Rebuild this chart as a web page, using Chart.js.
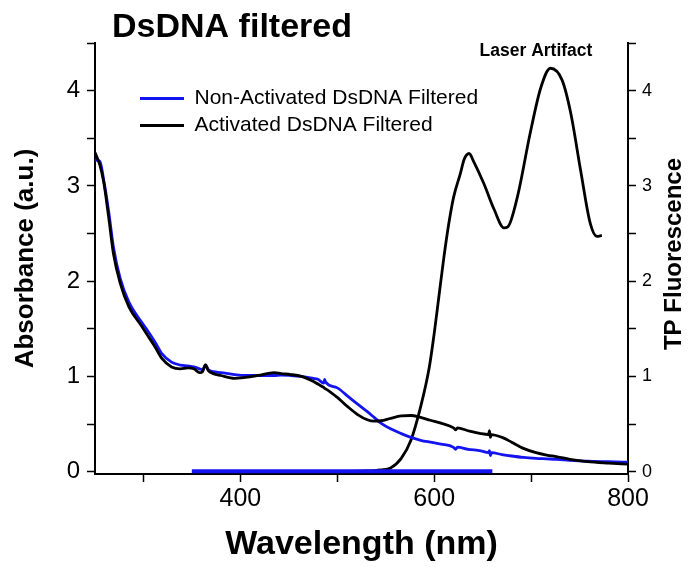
<!DOCTYPE html>
<html>
<head>
<meta charset="utf-8">
<title>DsDNA filtered</title>
<script src="https://cdn.jsdelivr.net/npm/chart.js@4.4.1/dist/chart.umd.min.js"></script>
<style>
  html, body { margin: 0; padding: 0; background: #fff; }
  #wrap { width: 691px; height: 567px; }
</style>
</head>
<body>
<div id="wrap"><canvas id="spectraChart" width="691" height="567"></canvas></div>
<script>
// ==============================================================================
// 1. DATA
// ==============================================================================
const wavelengths = [
    250, 255, 259, 264, 269, 276, 285, 298, 305, 312,
    319, 329, 338, 346, 352, 358, 361, 364, 367, 372,
    380, 394, 405, 418, 435, 442, 452, 463, 475, 480,
    486, 487, 488, 500, 511, 521, 531, 538, 545, 555,
    566, 576, 586, 596, 607, 620, 622, 624, 635, 648,
    656, 657, 658, 659, 670, 680, 692, 705, 716, 727,
    740, 758, 780, 800
];
const absNonActivated = [
    3.27, 3.26, 3.06, 2.74, 2.36, 2.03, 1.78, 1.57, 1.47, 1.36,
    1.24, 1.15, 1.12, 1.11, 1.10, 1.08, 1.07, 1.12, 1.07, 1.05,
    1.04, 1.02, 1.01, 1.01, 1.01, 1.015, 1.01, 1.00, 0.98, 0.97,
    0.93, 0.97, 0.94, 0.88, 0.79, 0.71, 0.63, 0.57, 0.51, 0.45,
    0.40, 0.36, 0.33, 0.31, 0.29, 0.256, 0.235, 0.258, 0.235, 0.22,
    0.20, 0.22, 0.17, 0.20, 0.18, 0.165, 0.15, 0.14, 0.135, 0.13,
    0.12, 0.11, 0.105, 0.10
];
const absActivated = [
    3.35, 3.22, 3.04, 2.68, 2.29, 1.98, 1.73, 1.53, 1.42, 1.31,
    1.19, 1.10, 1.08, 1.09, 1.08, 1.04, 1.05, 1.12, 1.06, 1.03,
    1.01, 0.98, 0.99, 1.01, 1.04, 1.03, 1.02, 1.00, 0.95, 0.92,
    0.885, 0.875, 0.87, 0.78, 0.68, 0.60, 0.545, 0.53, 0.535, 0.56,
    0.585, 0.59, 0.57, 0.54, 0.51, 0.46, 0.44, 0.46, 0.43, 0.40,
    0.39, 0.43, 0.36, 0.39, 0.36, 0.31, 0.245, 0.20, 0.175, 0.157,
    0.13, 0.105, 0.09, 0.08
];

// two-photon fluorescence (right axis)
const fluorWavelengths = [
    350, 500, 530, 545, 555, 566, 576, 586, 595, 600,
    605, 610, 615, 620, 627, 631, 636, 641, 651, 662,
    672, 676, 686, 699, 710, 720, 732, 741, 751, 761,
    768, 773
];
const fluorActivated = [
    0.0, 0.003, 0.008, 0.02, 0.04, 0.14, 0.33, 0.68, 1.10, 1.45,
    1.85, 2.25, 2.60, 2.88, 3.13, 3.28, 3.34, 3.25, 3.03, 2.75,
    2.56, 2.57, 2.89, 3.55, 4.03, 4.235, 4.11, 3.76, 3.17, 2.61,
    2.47, 2.48
];
const baselineWavelengths = [350, 660];
const fluorNonActivated = [0.005, 0.005];

// tick labels
const xTickValues = [300, 400, 500, 600, 700, 800];
const xTickLabels = ['', '400', '', '600', '', '800'];
const yTickValues = [0, 0.5, 1, 1.5, 2, 2.5, 3, 3.5, 4, 4.5];
const yTickLabels = ['0', '', '1', '', '2', '', '3', '', '4', ''];

const BLUE = '#1414f0';
const FONT = "'Liberation Sans', Arial, sans-serif";

// ==============================================================================
// 2. HELPERS
// ==============================================================================
function toPoints(xs, ys) {
    return xs.map((x, i) => ({ x: x, y: ys[i] }));
}

function fixedTicks(values) {
    return (scale) => { scale.ticks = values.map(v => ({ value: v })); };
}

function labelFor(values, labels) {
    return (v) => {
        const i = values.indexOf(v);
        return i < 0 ? '' : labels[i];
    };
}

// Title, laser note and right-hand axis title (reads bottom to top)
const textLayer = {
    id: 'textLayer',
    afterLayout(chart) {
        // vertical legends get top = 0 from update(), so place it by hand
        const lg = chart.legend;
        lg.left = chart.chartArea.left + 39;
        lg.top = chart.chartArea.top + 39;
        lg.bottom = lg.top + lg.height;
    },
    afterDraw(chart) {
        const ctx = chart.ctx;
        ctx.save();
        ctx.fillStyle = '#000';
        ctx.textAlign = 'center';
        ctx.textBaseline = 'alphabetic';

        ctx.font = `bold 34px ${FONT}`;
        ctx.fillText('DsDNA filtered', 232, 37);

        ctx.font = `bold 17.5px ${FONT}`;
        ctx.fillText('Laser Artifact', 536, 56);

        ctx.translate(681, 254);
        ctx.rotate(-Math.PI / 2);
        ctx.font = `bold 24px ${FONT}`;
        ctx.fillText('TP Fluorescence', 0, 0);
        ctx.restore();
    }
};

// ==============================================================================
// 3. CHART
// ==============================================================================
const lineStyle = {
    pointRadius: 0,
    fill: false,
    borderWidth: 2.8,
    borderJoinStyle: 'round',
    cubicInterpolationMode: 'monotone'
};

const axisGrid = {
    drawOnChartArea: false,
    color: '#000',
    tickColor: '#000',
    tickLength: 8,
    tickWidth: 1.5
};

new Chart(document.getElementById('spectraChart'), {
    type: 'line',
    data: {
        datasets: [
            Object.assign({
                label: 'Non-Activated DsDNA Filtered',
                data: toPoints(wavelengths, absNonActivated),
                borderColor: BLUE,
                backgroundColor: BLUE,
                yAxisID: 'y',
                order: 2
            }, lineStyle),
            Object.assign({
                label: 'Activated DsDNA Filtered',
                data: toPoints(wavelengths, absActivated),
                borderColor: '#000',
                backgroundColor: '#000',
                yAxisID: 'y',
                order: 1
            }, lineStyle),
            Object.assign({}, lineStyle, {
                label: 'Non-Activated TP',
                data: toPoints(baselineWavelengths, fluorNonActivated),
                borderColor: BLUE,
                backgroundColor: BLUE,
                borderWidth: 4,
                yAxisID: 'y2',
                order: 0
            }),
            Object.assign({
                label: 'Activated TP',
                data: toPoints(fluorWavelengths, fluorActivated),
                borderColor: '#000',
                backgroundColor: '#000',
                yAxisID: 'y2',
                order: 3
            }, lineStyle)
        ]
    },
    options: {
        responsive: false,
        animation: false,
        devicePixelRatio: 1,
        layout: { padding: { top: 43, left: 0, right: 0, bottom: 0 } },
        scales: {
            x: {
                type: 'linear',
                min: 250,
                max: 800,
                afterBuildTicks: fixedTicks(xTickValues),
                afterFit: (s) => { s.height = 93; },
                border: { color: '#000', width: 2 },
                grid: axisGrid,
                ticks: {
                    color: '#000',
                    font: { family: FONT, size: 25 },
                    padding: 2,
                    maxRotation: 0,
                    autoSkip: false,
                    callback: labelFor(xTickValues, xTickLabels)
                },
                title: {
                    display: true,
                    text: 'Wavelength (nm)',
                    color: '#000',
                    font: { family: FONT, size: 34, weight: 'bold' },
                    padding: { top: 0, bottom: 2 }
                }
            },
            y: {
                position: 'left',
                min: -0.024,
                max: 4.5,
                afterBuildTicks: fixedTicks(yTickValues),
                afterFit: (s) => { s.width = 95; },
                border: { color: '#000', width: 2 },
                grid: axisGrid,
                ticks: {
                    color: '#000',
                    font: { family: FONT, size: 24 },
                    padding: 7,
                    autoSkip: false,
                    callback: labelFor(yTickValues, yTickLabels)
                },
                title: {
                    display: true,
                    text: 'Absorbance (a.u.)',
                    color: '#000',
                    font: { family: FONT, size: 26, weight: 'bold' },
                    padding: { top: 10, bottom: 0 }
                }
            },
            y2: {
                position: 'right',
                min: -0.024,
                max: 4.5,
                afterBuildTicks: fixedTicks(yTickValues),
                afterFit: (s) => { s.width = 63; },
                border: { color: '#000', width: 2 },
                grid: axisGrid,
                ticks: {
                    color: '#000',
                    font: { family: FONT, size: 18 },
                    padding: 6,
                    autoSkip: false,
                    callback: labelFor(yTickValues, yTickLabels)
                }
            }
        },
        plugins: {
            title: { display: false },
            tooltip: { enabled: false },
            legend: {
                position: 'chartArea',
                align: 'start',
                labels: {
                    color: '#000',
                    font: { family: FONT, size: 21 },
                    boxWidth: 44,
                    boxHeight: 3,
                    padding: 6,
                    generateLabels(chart) {
                        return Chart.defaults.plugins.legend.labels.generateLabels(chart)
                            .filter(item => item.datasetIndex < 2)
                            .sort((a, b) => a.datasetIndex - b.datasetIndex)
                            .map(item => Object.assign(item, { lineWidth: 0, fillStyle: item.strokeStyle }));
                    }
                }
            }
        }
    },
    plugins: [textLayer]
});
</script>
</body>
</html>
